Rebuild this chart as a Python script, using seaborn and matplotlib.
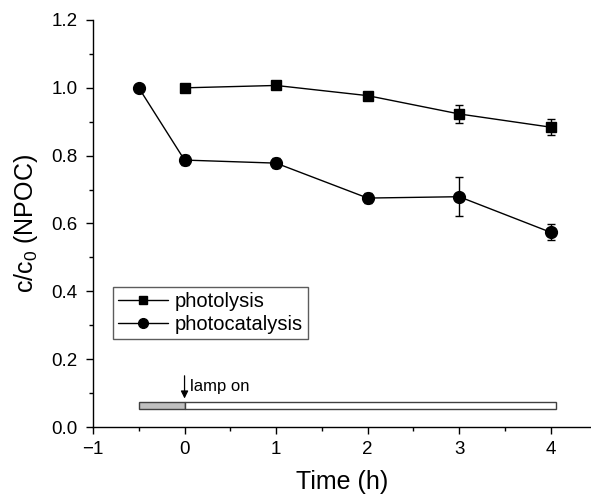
import numpy as np
import pandas as pd
import matplotlib
matplotlib.use("Agg")
import matplotlib.pyplot as plt
import seaborn as sns
from matplotlib.lines import Line2D
from matplotlib.patches import Rectangle
from matplotlib.ticker import MultipleLocator

sns.set_theme(style="ticks")
plt.rcParams['font.family'] = ['Liberation Sans', 'DejaVu Sans']
plt.rcParams['mathtext.fontset'] = 'custom'
plt.rcParams['mathtext.rm'] = 'Liberation Sans'
plt.rcParams['mathtext.it'] = 'Liberation Sans'
for k in ['text.color', 'axes.labelcolor', 'xtick.color', 'ytick.color', 'axes.edgecolor']:
    plt.rcParams[k] = 'black'

# Data
photolysis_t = [0, 1, 2, 3, 4]
photolysis_c = [1.000, 1.007, 0.977, 0.923, 0.884]
photolysis_err = [0.005, 0.008, 0.010, 0.026, 0.024]

photocat_t = [-0.5, 0, 1, 2, 3, 4]
photocat_c = [1.000, 0.787, 0.778, 0.675, 0.679, 0.574]
photocat_err = [0.0, 0.015, 0.014, 0.016, 0.057, 0.024]

series_names = ["photolysis", "photocatalysis"]

df = pd.concat([
    pd.DataFrame({"t": photolysis_t, "c": photolysis_c, "err": photolysis_err, "series": series_names[0]}),
    pd.DataFrame({"t": photocat_t, "c": photocat_c, "err": photocat_err, "series": series_names[1]}),
], ignore_index=True)

fig = plt.figure(figsize=(5.91, 5.01), dpi=100)
ax = fig.add_axes([93/591, 74/501, 498/591, 407/501])

markers = {"photolysis": "s", "photocatalysis": "o"}
msizes = {"photolysis": 7.5, "photocatalysis": 8.5}
for name in series_names:
    sub = df[df.series == name]
    ax.errorbar(sub.t, sub.c, yerr=sub.err, fmt='none', ecolor='black',
                elinewidth=1.0, capsize=3, capthick=1.0, zorder=2)
    sns.lineplot(data=sub, x="t", y="c", ax=ax, color="black", marker=markers[name],
                 markersize=msizes[name], markeredgecolor='black', markeredgewidth=1.0,
                 linewidth=1.0, estimator=None, errorbar=None, legend=False, zorder=3)

# lamp bar
ax.add_patch(Rectangle((-0.5, 0.052), 0.5, 0.021, facecolor='#c0c0c0', edgecolor='#404040', lw=1.0, zorder=2))
ax.add_patch(Rectangle((0.0, 0.052), 4.06, 0.021, facecolor='white', edgecolor='#404040', lw=1.0, zorder=2))
ax.annotate("", xy=(0, 0.084), xytext=(0, 0.151),
            arrowprops=dict(arrowstyle="-|>", color='black', lw=0.9, mutation_scale=11,
                            shrinkA=0, shrinkB=0))
ax.text(0.06, 0.118, "lamp on", fontsize=12, va='center', ha='left')

ax.set_xlim(-1, 4.44)
ax.set_ylim(0, 1.2)
ax.xaxis.set_major_locator(MultipleLocator(1))
ax.xaxis.set_minor_locator(MultipleLocator(0.5))
ax.yaxis.set_major_locator(MultipleLocator(0.2))
ax.yaxis.set_minor_locator(MultipleLocator(0.1))
ax.yaxis.set_major_formatter(matplotlib.ticker.FormatStrFormatter('%.1f'))
ax.tick_params(which='major', direction='out', length=5, width=1.0, labelsize=13.5,
               color='black', labelcolor='black')
ax.tick_params(axis='y', which='major', pad=6)
ax.tick_params(axis='x', which='major', pad=5)
ax.tick_params(which='minor', direction='out', length=3, width=1.0, color='black')
for s in ['top', 'right']:
    ax.spines[s].set_visible(False)
for s in ['left', 'bottom']:
    ax.spines[s].set_color('black')
    ax.spines[s].set_linewidth(1.0)

ax.set_xlabel("Time (h)", fontsize=18, labelpad=9, color='black')
ax.set_ylabel(r"c/c$_\mathregular{0}$ (NPOC)", fontsize=18, labelpad=8, color='black')

handles = [Line2D([], [], color='black', marker=markers[n],
                  markersize=(5.5 if n == "photolysis" else 7), lw=1.0) for n in series_names]
leg = ax.legend(handles, series_names, loc='upper left', bbox_to_anchor=(0.040, 0.344),
                fontsize=14.5, frameon=True, fancybox=False, edgecolor='#333333',
                handlelength=2.5, handletextpad=0.3, borderpad=0.25, labelspacing=0.2,
                borderaxespad=0)
leg.get_frame().set_linewidth(1.0)
for t in leg.get_texts():
    t.set_color('black')

fig.savefig("out.png", dpi=100)
